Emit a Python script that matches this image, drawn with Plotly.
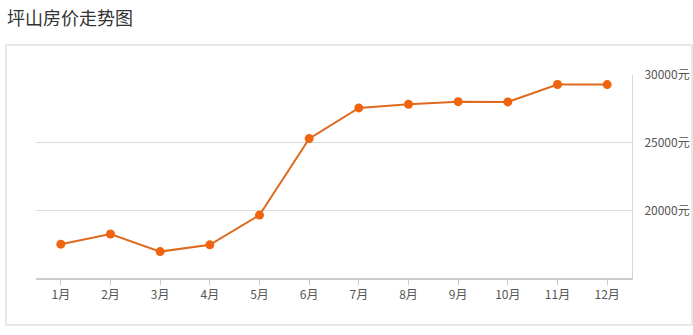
import plotly.graph_objects as go

months = ["1月", "2月", "3月", "4月", "5月", "6月", "7月", "8月", "9月", "10月", "11月", "12月"]
prices = [17500, 18250, 16950, 17450, 19650, 25300, 27570, 27840, 28030, 28010, 29300, 29290]
y_ticks = [20000, 25000, 30000]
y_tick_text = ["20000元", "25000元", "30000元"]
title_text = "坪山房价走势图"

W, H = 693, 335
L, R, T, B = 36, 632, 75, 278

fig = go.Figure()
fig.add_trace(go.Scatter(
    x=months, y=prices, mode="lines+markers",
    line=dict(color="#dd6a1f", width=2),
    marker=dict(color="#f0640f", size=9),
    cliponaxis=False, hoverinfo="skip",
))

fig.update_layout(
    width=W, height=H,
    margin=dict(l=L, r=W - R, t=T, b=H - B),
    paper_bgcolor="white", plot_bgcolor="white",
    showlegend=False,
    font=dict(family="Noto Sans CJK SC, Noto Sans, sans-serif", color="#555", size=12),
    xaxis=dict(
        type="category", range=[-0.5, 11.5], automargin=False,
        showgrid=False, zeroline=False,
        showline=True, linecolor="#cccccc", linewidth=2,
        ticks="outside", ticklen=5, tickcolor="#cccccc", tickwidth=1,
        tickfont=dict(size=12, color="#555"),
        ticklabelstandoff=0,
    ),
    yaxis=dict(
        side="right", range=[15000, 30000], automargin=False,
        tickvals=y_ticks, ticktext=y_tick_text,
        showgrid=True, gridcolor="#dddddd", gridwidth=1,
        zeroline=False,
        showline=True, linecolor="#d8d8d8", linewidth=1,
        ticks="", ticklabelstandoff=9,
        tickfont=dict(size=12, color="#555"),
    ),
    shapes=[
        dict(type="rect", xref="paper", yref="paper",
             x0=(6 - L) / (R - L), x1=(692 - L) / (R - L),
             y0=(B - 325) / (B - T), y1=(B - 45) / (B - T),
             line=dict(color="#e0e0e0", width=1.5), fillcolor="rgba(0,0,0,0)", layer="below"),
    ],
    annotations=[
        dict(text=title_text, xref="paper", yref="paper",
             x=(5 - L) / (R - L), y=(B - 17) / (B - T),
             xanchor="left", yanchor="middle", showarrow=False,
             font=dict(size=18, color="#333", family="Noto Sans CJK SC, sans-serif")),
    ],
)

fig.write_html("out.html")
